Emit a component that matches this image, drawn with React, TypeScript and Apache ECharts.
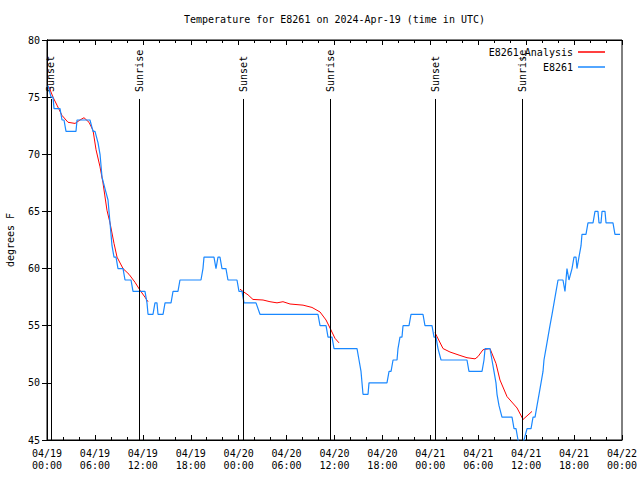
import React, { useEffect, useRef } from "react";
import * as echarts from "echarts";

// time in hours since 2024-04-19 00:00 UTC, value in degrees F
const e8261Data: [number, number][] = [
  [0.13, 76], [0.5, 75], [0.75, 75], [0.88, 74], [1.63, 74], [1.88, 73], [2.13, 73], [2.38, 72],
  [3.63, 72], [3.76, 73], [5.38, 73], [5.76, 72], [6.01, 72], [6.39, 71], [6.64, 70], [6.89, 68],
  [7.26, 67], [7.64, 66], [7.89, 64], [8.14, 62], [8.39, 61], [8.64, 61], [8.89, 60], [9.52, 60],
  [9.77, 59], [10.52, 59], [10.77, 58], [12.27, 58], [12.52, 57], [12.65, 56], [13.27, 56],
  [13.52, 57], [13.77, 57], [13.9, 56], [14.53, 56], [14.78, 57], [15.53, 57], [15.78, 58],
  [16.4, 58], [16.65, 59], [19.28, 59], [19.53, 60], [19.66, 61], [20.91, 61], [21.16, 60],
  [21.41, 61], [21.66, 61], [21.91, 60], [22.41, 60], [22.66, 59], [23.79, 59], [24.04, 58],
  [24.42, 58], [24.67, 57], [26.17, 57], [26.67, 56], [33.93, 56], [34.19, 55], [34.94, 55],
  [35.19, 54], [35.69, 54], [35.94, 53], [38.82, 53], [39.07, 52], [39.32, 51], [39.57, 49],
  [40.2, 49], [40.32, 50], [42.57, 50], [42.83, 51], [43.08, 51], [43.33, 52], [43.83, 52],
  [43.95, 53], [44.2, 54], [44.45, 54], [44.58, 55], [45.33, 55], [45.58, 56], [47.08, 56],
  [47.33, 55], [48.21, 55], [48.46, 54], [48.71, 54], [48.96, 53], [49.34, 52], [52.59, 52],
  [52.84, 51], [54.47, 51], [54.72, 52], [54.85, 53], [55.47, 53], [55.72, 52], [55.97, 51],
  [56.22, 50], [56.35, 49], [56.6, 48], [56.97, 47], [58.23, 47], [58.48, 46], [58.73, 46],
  [58.98, 45], [59.35, 44], [59.73, 45], [60.11, 46], [60.61, 46], [60.86, 47], [61.11, 47],
  [61.36, 48], [61.61, 49], [61.86, 50], [62.11, 51], [62.23, 52], [62.48, 53], [62.73, 54],
  [62.98, 55], [63.24, 56], [63.49, 57], [63.74, 58], [63.99, 59], [64.61, 59], [64.86, 58],
  [65.11, 60], [65.36, 59], [65.74, 60], [65.99, 61], [66.24, 61], [66.36, 60], [66.61, 61],
  [66.87, 62], [66.99, 63], [67.49, 63], [67.74, 64], [68.37, 64], [68.62, 65], [68.99, 65],
  [69.12, 64], [69.37, 64], [69.5, 65], [69.87, 65], [70.0, 64], [70.87, 64], [71.12, 63],
  [71.75, 63],
];

const analysisDay1: [number, number][] = [
  [0.25, 75.9], [0.75, 75], [1.25, 74.3], [1.88, 73.4], [2.63, 72.8], [3.51, 72.7], [4.13, 73],
  [4.63, 73.2], [5.26, 72.8], [5.76, 72.1], [6.14, 70.4], [6.64, 68.9], [7.01, 67.5], [7.51, 65.1],
  [7.89, 64], [8.39, 62.2], [8.77, 61], [9.52, 60], [10.27, 59.5], [11.02, 58.8], [11.65, 58.1],
  [12.27, 57.5], [12.65, 57.1],
];
const analysisDay2: [number, number][] = [
  [24.17, 58.2], [24.54, 58], [25.17, 57.7], [25.79, 57.3], [27.05, 57.25], [27.92, 57.1],
  [28.8, 57], [29.55, 57.1], [30.43, 56.9], [32.06, 56.8], [33.18, 56.6], [34.19, 56.2],
  [34.94, 55.5], [35.44, 54.8], [36.06, 53.9], [36.56, 53.5],
];
const analysisDay3: [number, number][] = [
  [48.58, 54.4], [49.59, 53], [50.46, 52.7], [51.71, 52.4], [52.59, 52.2], [53.6, 52.1],
  [53.97, 52.3], [54.6, 52.9], [55.47, 53], [56.22, 51.7], [56.72, 50.25], [57.6, 48.8],
  [58.86, 47.8], [59.61, 46.8], [60.73, 47.5],
];

const sunTimes = [0.5, 11.56, 24.58, 35.48, 48.62, 59.52];
const sunLabels = ["Sunset", "Sunrise", "Sunset", "Sunrise", "Sunset", "Sunrise"];
const SUN_LINE_TOP = 74.84;

const yTicks = [45, 50, 55, 60, 65, 70, 75, 80];
const xMin = 0, xMax = 72, xStep = 6;

const FONT = "DejaVu Sans Mono";
const TITLE = "Temperature for E8261 on 2024-Apr-19 (time in UTC)";

function pad(n: number) {
  return n < 10 ? "0" + n : "" + n;
}

export default function App() {
  const ref = useRef<HTMLDivElement>(null);
  useEffect(() => {
    if (!ref.current) return;
    const chart = echarts.init(ref.current, null, { renderer: "svg" });
    const analysis: any[] = [
      ...analysisDay1,
      [analysisDay1[analysisDay1.length - 1][0] + 0.01, "-"],
      ...analysisDay2,
      [analysisDay2[analysisDay2.length - 1][0] + 0.01, "-"],
      ...analysisDay3,
    ];
    const textStyle = { fontFamily: FONT, fontSize: 10, color: "#000" };
    const xCommon = {
      type: "value",
      min: xMin,
      max: xMax,
      interval: xStep,
      axisLine: { show: true, lineStyle: { color: "#000", width: 1 } },
      axisTick: { show: true, inside: true, length: 5, lineStyle: { color: "#000" } },
      minorTick: { show: true, splitNumber: 3, length: 3, lineStyle: { color: "#000" } },
      splitLine: { show: false },
      minorSplitLine: { show: false },
    };
    const yCommon = {
      type: "value",
      min: yTicks[0],
      max: yTicks[yTicks.length - 1],
      interval: yTicks[1] - yTicks[0],
      axisLine: { show: true, lineStyle: { color: "#000", width: 1 } },
      axisTick: { show: true, inside: true, length: 5, lineStyle: { color: "#000" } },
      splitLine: { show: false },
    };
    const titleGraphic = {
      type: "text",
      x: 334.5,
      y: 19,
      style: { text: TITLE, font: `10px ${FONT}`, fill: "#000", textAlign: "center", textVerticalAlign: "middle" },
    };
    chart.setOption({
      animation: false,
      backgroundColor: "#fff",
      grid: {
        left: 47, right: 18, top: 40, bottom: 40,
        containLabel: false,
        outerBoundsMode: "none",
        show: true, borderColor: "#000", borderWidth: 1, backgroundColor: "transparent",
      },
      legend: {
        data: ["E8261_Analysis", "E8261"],
        orient: "vertical",
        right: 30,
        top: 41,
        align: "right",
        icon: "rect",
        itemWidth: 27,
        itemHeight: 1.5,
        itemGap: 3,
        textStyle: { ...textStyle, lineHeight: 12 },
        selectedMode: false,
      },
      xAxis: [
        {
          ...xCommon,
          position: "bottom",
          axisLabel: {
            ...textStyle,
            lineHeight: 12,
            margin: 7,
            formatter: (v: number) => {
              const d = 19 + Math.floor(v / 24);
              const h = v % 24;
              return `04/${d}\n${pad(h)}:00`;
            },
          },
        },
        { ...xCommon, position: "top", axisLabel: { show: false } },
      ],
      yAxis: [
        {
          ...yCommon,
          position: "left",
          name: "degrees F",
          nameLocation: "middle",
          nameGap: 32,
          nameTextStyle: textStyle,
          axisLabel: { ...textStyle, margin: 7 },
        },
        { ...yCommon, position: "right", axisLabel: { show: false } },
      ],
      series: [
        {
          name: "E8261_Analysis",
          type: "line",
          color: "#ff0000",
          data: analysis,
          showSymbol: false,
          connectNulls: false,
          lineStyle: { width: 1, color: "#ff0000" },
          clip: true,
          z: 2,
        },
        {
          name: "E8261",
          type: "line",
          color: "#1a88ff",
          data: e8261Data,
          showSymbol: false,
          lineStyle: { width: 1.2, color: "#1a88ff" },
          clip: true,
          z: 3,
          markLine: {
            silent: true,
            symbol: ["none", "none"],
            label: { show: false },
            lineStyle: { color: "#000", width: 1, type: "solid" },
            data: sunTimes.map((t) => [{ coord: [t, yTicks[0]] }, { coord: [t, SUN_LINE_TOP] }]),
          },
        },
      ],
      graphic: [titleGraphic],
    });
    const labels = sunTimes.map((t, i) => {
      const p = chart.convertToPixel({ seriesIndex: 1 }, [t, SUN_LINE_TOP]) as number[];
      return {
        type: "text",
        x: p[0],
        y: p[1] - 7,
        rotation: Math.PI / 2,
        style: {
          text: sunLabels[i],
          font: `10px ${FONT}`,
          fill: "#000",
          textAlign: "left",
          textVerticalAlign: "middle",
        },
      };
    });
    chart.setOption({ graphic: [titleGraphic, ...labels] });
    return () => chart.dispose();
  }, []);
  return <div ref={ref} style={{ position: "absolute", left: 0, top: 0, width: 640, height: 480 }} />;
}
